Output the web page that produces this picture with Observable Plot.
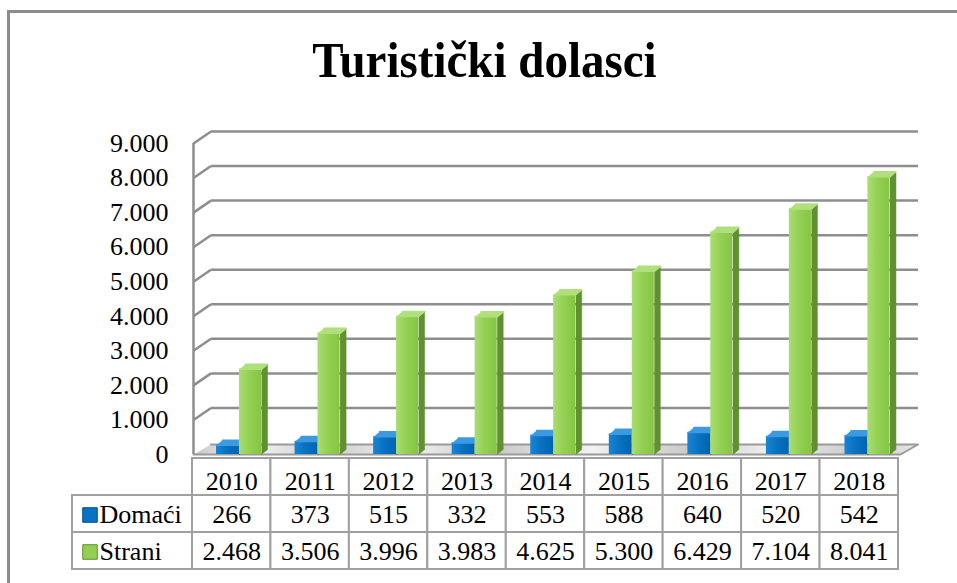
<!DOCTYPE html>
<html>
<head>
<meta charset="utf-8">
<script src="https://cdn.jsdelivr.net/npm/d3@7"></script>
<script src="https://cdn.jsdelivr.net/npm/@observablehq/plot@0.6"></script>
<style>
  html, body { margin: 0; padding: 0; background: #fff; }
  #wrap { position: relative; width: 957px; height: 583px; overflow: hidden; background: #fff; }
  #frame { position: absolute; left: 7px; top: 10px; width: 970px; height: 600px;
           border-top: 3px solid #8c8c8c; border-left: 3px solid #8c8c8c; box-sizing: border-box; }
  #title { position: absolute; left: 0; width: 957px; top: 37.6px; text-align: center;
           font-family: "Liberation Serif", "Times New Roman", serif; font-weight: bold;
           font-size: 47px; line-height: 47px; color: #000;
           transform: scaleY(1.1); transform-origin: 50% 39.4px; margin-left: 6px; }
</style>
</head>
<body>
<div id="wrap">
  <div id="frame"></div>
  <div id="title">Turistički dolasci</div>
</div>
<script>
// ---------- data ----------
const years = ["2010", "2011", "2012", "2013", "2014", "2015", "2016", "2017", "2018"];
const domaci = [266, 373, 515, 332, 553, 588, 640, 520, 542];
const strani = [2468, 3506, 3996, 3983, 4625, 5300, 6429, 7104, 8041];
const seriesNames = ["Domaći", "Strani"];
const yTicks = [0, 1000, 2000, 3000, 4000, 5000, 6000, 7000, 8000, 9000];

// ---------- helpers ----------
const fmt = d3.formatLocale({decimal: ",", thousands: ".", grouping: [3], currency: ["", ""]}).format(",");
const FONT = "'Liberation Serif', 'Times New Roman', serif";
const n = years.length;
const yMax = yTicks[yTicks.length - 1];

// depth of the 3D box (in scale units)
const DX = 17.5 / 78.56;     // wall depth along x
const DYW = 12 / 0.03456;    // wall depth along y
const DYF = 10 / 0.03456;    // floor depth along y
const BDX = 6 / 78.56;       // bar depth x
const BDY = 5 / 0.03456;     // bar depth y
const slot = {"Domaći": [0.293, 0.585], "Strani": [0.585, 0.866]};
const colors = {
  "Domaći": {front: "url(#gBlue)", side: "#00508f", top: "#3d9ae0"},
  "Strani": {front: "url(#gGreen)", side: "#5f9130", top: "#b0e07c"}
};
const values = {"Domaći": domaci, "Strani": strani};

const bars = seriesNames.flatMap(s => years.map((yr, i) => ({s, i, v: values[s][i], key: s + yr})));
const polys = (kind) => bars.flatMap(b => {
  const [a, c] = slot[b.s];
  const x1 = b.i + a, x2 = b.i + c;
  const pts = kind === "side"
    ? [[x2, 0], [x2 + BDX, BDY], [x2 + BDX, b.v + BDY], [x2, b.v]]
    : [[x1, b.v], [x2, b.v], [x2 + BDX, b.v + BDY], [x1 + BDX, b.v + BDY]];
  return pts.map(([x, y]) => ({x, y, key: b.key, s: b.s}));
});
const floorPts = [[0, 0], [n, 0], [n + DX, DYF], [DX, DYF]].map(([x, y]) => ({x, y}));
const gridTicks = yTicks.filter(t => t > 0);

function defs() {
  const ns = "http://www.w3.org/2000/svg";
  const d = document.createElementNS(ns, "defs");
  d.innerHTML = `
    <linearGradient id="gGreen" x1="0" x2="1" y1="0" y2="0">
      <stop offset="0%" stop-color="#a9dd72"/><stop offset="45%" stop-color="#94d153"/><stop offset="100%" stop-color="#86c446"/>
    </linearGradient>
    <linearGradient id="gBlue" x1="0" x2="1" y1="0" y2="0">
      <stop offset="0%" stop-color="#1a84d4"/><stop offset="45%" stop-color="#0a72c2"/><stop offset="100%" stop-color="#0064b0"/>
    </linearGradient>
    <linearGradient id="gFloor" x1="0" x2="1" y1="0" y2="0">
      <stop offset="0%" stop-color="#c8c8c8"/><stop offset="8%" stop-color="#f4f4f4"/><stop offset="18%" stop-color="#cdcdcd"/>
      <stop offset="30%" stop-color="#efefef"/><stop offset="42%" stop-color="#c9c9c9"/><stop offset="55%" stop-color="#f2f2f2"/>
      <stop offset="68%" stop-color="#cbcbcb"/><stop offset="80%" stop-color="#f0f0f0"/><stop offset="92%" stop-color="#c8c8c8"/>
      <stop offset="100%" stop-color="#e6e6e6"/>
    </linearGradient>`;
  return d;
}

const barMarks = seriesNames.flatMap(s => [
  Plot.rectY(bars.filter(b => b.s === s), {
    x1: b => b.i + slot[s][0], x2: b => b.i + slot[s][1], y1: 0, y2: "v",
    fill: colors[s].front
  }),
  Plot.line(polys("side").filter(p => p.s === s), {x: "x", y: "y", z: "key", fill: colors[s].side, stroke: colors[s].side, strokeWidth: 0.5}),
  Plot.line(polys("top").filter(p => p.s === s), {x: "x", y: "y", z: "key", fill: colors[s].top, stroke: colors[s].top, strokeWidth: 1.5, strokeLinejoin: "round"})
]);

const chart = Plot.plot({
  width: 957,
  height: 470,
  marginLeft: 193,
  marginRight: 57,
  marginTop: 143,
  marginBottom: 16,
  style: {fontFamily: FONT, fontSize: "26px", color: "#000", background: "transparent", overflow: "visible"},
  x: {domain: [0, n], axis: null},
  y: {domain: [0, yMax], ticks: yTicks.length, tickFormat: fmt, tickSize: 0, tickPadding: 25, label: null},
  marks: [
    defs,
    Plot.link(gridTicks, {x1: DX, x2: n + DX, y1: t => t + DYW, y2: t => t + DYW, stroke: "#8e8e8e", strokeWidth: 2.5}),
    Plot.link(gridTicks, {x1: 0, y1: t => t, x2: DX, y2: t => t + DYW, stroke: "#8e8e8e", strokeWidth: 2.5}),
    Plot.ruleX([0], {x: d => d, y1: 0, y2: yMax, stroke: "#8e8e8e", strokeWidth: 2.5}),
    Plot.line(floorPts, {x: "x", y: "y", fill: "url(#gFloor)", stroke: "#9a9a9a", strokeWidth: 2}),
    ...barMarks
  ]
});
chart.style.position = "absolute";
chart.style.left = "0px";
chart.style.top = "0px";
document.getElementById("wrap").appendChild(chart);

// ---------- data table ----------
const LEG = 120 / 78.44;
const rows = ["year", ...seriesNames];
const cells = rows.flatMap(r => years.map((yr, i) => ({r, i, yr})));
const swatch = {"Domaći": ["#0a72c2", "#00508f"], "Strani": ["#92cf52", "#5f9130"]};

const table = Plot.plot({
  width: 957,
  height: 133,
  marginLeft: 192,
  marginRight: 59,
  marginTop: 7,
  marginBottom: 13,
  style: {fontFamily: FONT, fontSize: "26px", color: "#000", background: "transparent", overflow: "visible"},
  x: {domain: [0, n], axis: null},
  y: {domain: rows, padding: 0, axis: null},
  marks: [
    Plot.barX(cells, {y: "r", x1: d => d.i, x2: d => d.i + 1, fill: "white", stroke: "#a0a0a0", strokeWidth: 2}),
    Plot.barX(seriesNames, {y: d => d, x1: -LEG, x2: 0, fill: "white", stroke: "#a0a0a0", strokeWidth: 2}),
    Plot.text(years, {x: (d, i) => i + 0.5, y: () => "year", text: d => d, fontSize: 26, dy: 5, fill: "#000"}),
    ...seriesNames.map(s => Plot.text(values[s], {x: (d, i) => i + 0.5, y: () => s, text: d => fmt(d), fontSize: 26, dy: 1, fill: "#000"})),
    Plot.dot(seriesNames, {x: () => -LEG, y: d => d, dx: 17.5, dy: 1, symbol: "square", r: 8.2, fill: d => swatch[d][0], stroke: d => swatch[d][1], strokeWidth: 1}),
    Plot.text(seriesNames, {x: () => -LEG, y: d => d, dx: 27, dy: 1, text: d => d, textAnchor: "start", fontSize: 26, fill: "#000"})
  ]
});
table.style.position = "absolute";
table.style.left = "0px";
table.style.top = "450px";
document.getElementById("wrap").appendChild(table);
</script>
</body>
</html>
